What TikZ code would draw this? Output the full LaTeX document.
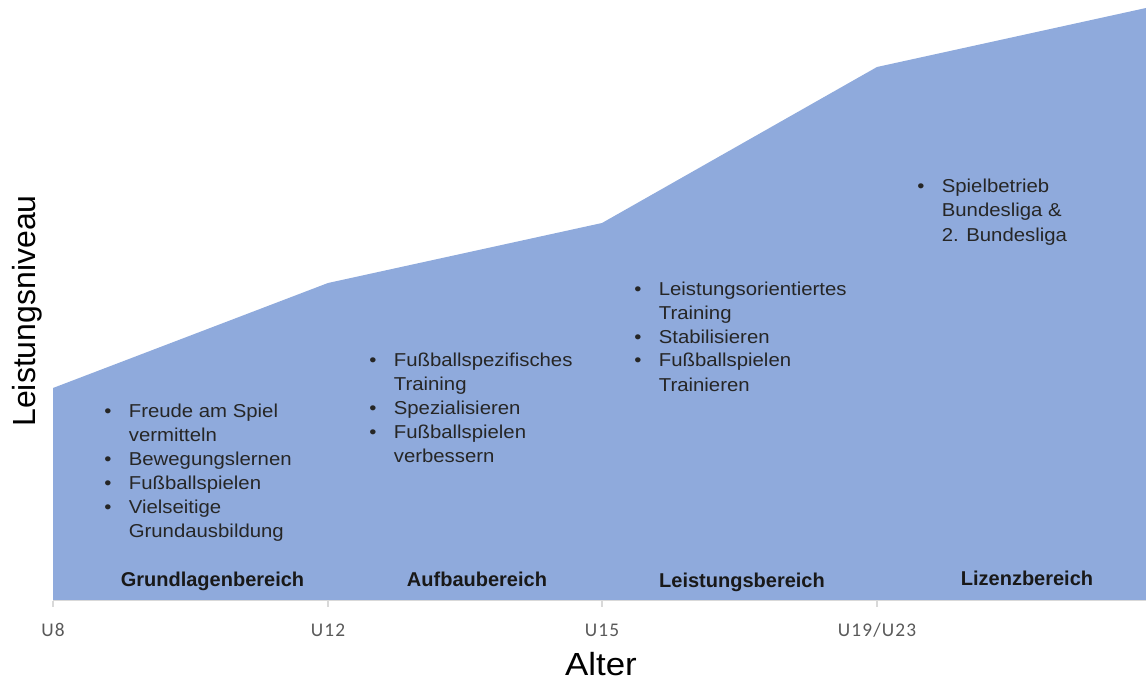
\documentclass[tikz,border=0pt]{standalone}
\usepackage{fontspec}
\setmainfont{Liberation Sans}
\newfontfamily\tickfont[LetterSpace=6]{Carlito}
\definecolor{niveau}{HTML}{8FAADC}
\definecolor{achse}{HTML}{D9D9D9}
\definecolor{ticktext}{HTML}{595959}
\newcommand{\breit}[1]{\scalebox{1.09}[1]{#1}}

\begin{document}
\begin{tikzpicture}[x=0.75pt, y=-0.75pt,
    liste/.style={anchor=base west, inner sep=0pt, font=\fontsize{14}{18}\selectfont, text=black!85},
    bereich/.style={anchor=base, inner sep=0pt, font=\fontsize{15}{18}\selectfont\bfseries, text=black!90},
    tick/.style={anchor=base, inner sep=0pt, font=\tickfont\fontsize{14.5}{16}\selectfont, text=ticktext},
    achsentitel/.style={anchor=base, inner sep=0pt, font=\fontsize{24}{28}\selectfont}]
    \useasboundingbox (0,0) rectangle (1146,681);

    % Flaeche
    \fill[niveau] (53,600) -- (53,388) -- (328,283) -- (602,223) -- (877,67) -- (1146,8) -- (1146,600) -- cycle;

    % Achse
    \draw[achse, line width=1pt] (53,600.5) -- (1146,600.5);
    \foreach \x in {53,328,602,877}
        \draw[achse, line width=1pt] (\x,600.5) -- (\x,607);

    \node[tick] (u8)  at (53,636)  {U8};
    \node[tick] (u12) at (328,636) {U12};
    \node[tick] (u15) at (602,636) {U15};
    \node[tick] (u19) at (877,636) {U19/U23};

    \node[achsentitel] (alter) at (601,675) {\breit{Alter}};
    \node[achsentitel, rotate=90] (niveau) at (35,311) {Leistungsniveau};

    % Inhalte
    \node[liste] (grund) at (104,417) {\breit{\begin{tabular}[t]{@{}l@{\hspace{12pt}}l@{}}
        • & Freude am Spiel\\
          & vermitteln\\
        • & Bewegungslernen\\
        • & Fußballspielen\\
        • & Vielseitige\\
          & Grundausbildung
    \end{tabular}}};
    \node[liste] (aufbau) at (369,366) {\breit{\begin{tabular}[t]{@{}l@{\hspace{12pt}}l@{}}
        • & Fußballspezifisches\\
          & Training\\
        • & Spezialisieren\\
        • & Fußballspielen\\
          & verbessern
    \end{tabular}}};
    \node[liste] (leistung) at (634,295) {\breit{\begin{tabular}[t]{@{}l@{\hspace{12pt}}l@{}}
        • & Leistungsorientiertes\\
          & Training\\
        • & Stabilisieren\\
        • & Fußballspielen\\
          & Trainieren
    \end{tabular}}};
    \node[liste] (lizenz) at (917,193) {\breit{\begin{tabular}[t]{@{}l@{\hspace{12pt}}l@{}}
        • & Spielbetrieb\\
          & Bundesliga \&\\
          & 2. Bundesliga
    \end{tabular}}};

    % Bereiche
    \node[bereich] (grundlagen) at (212.5,586) {Grundlagenbereich};
    \node[bereich] (aufbaub)    at (477,586)   {Aufbaubereich};
    \node[bereich] (leistungsb) at (742,587)   {Leistungsbereich};
    \node[bereich] (lizenzb)    at (1027,585)  {Lizenzbereich};
\end{tikzpicture}
\end{document}
